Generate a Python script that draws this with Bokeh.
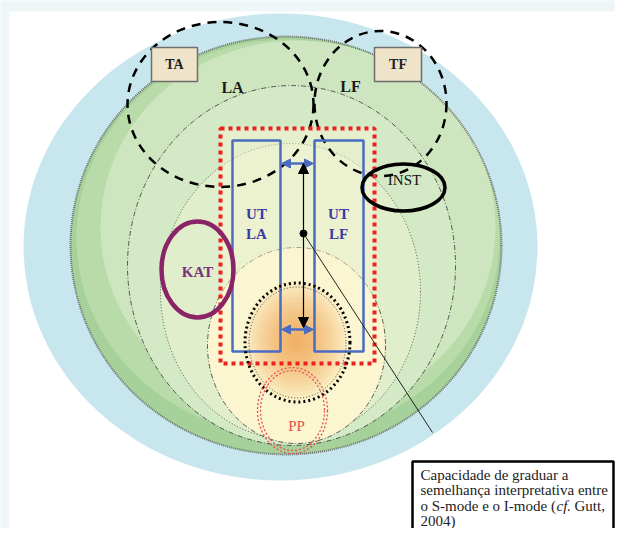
import numpy as np
from bokeh.plotting import figure
from bokeh.models import Range1d, Arrow, NormalHead
from bokeh.core.properties import value
from bokeh.embed import file_html
from bokeh.resources import INLINE

# ---- diagram geometry (picture pixel units) ----
# nested fields: outer sky, outer green, rings A, B, C
field_cx = [280, 285.5, 291, 290, 296]
field_cy = [246.5, 245, 265, 291, 345]
field_w = [514, 431, 328, 260, 178]
field_h = [467, 418, 360, 296, 196]

# dashed circles of the two traditions (TA/LA and TF/LF)
circle_cx = [220, 380]
circle_cy = [104, 103]
circle_w = [186, 132]
circle_h = [165, 145]

# tradition boxes
box_names = ["TA", "TF"]
box_left = [151, 374]
box_right = [197, 421]
box_top = [47, 47]
box_bottom = [81, 81]

# language labels
lang_names = ["LA", "LF"]
lang_x = [232, 350]
lang_y = [87, 86]

# unit-of-translation columns
ut_left = [232, 314]
ut_right = [280, 363]
ut_top = [140, 140]
ut_bottom = [351, 351]
ut_line1 = ["UT", "UT"]
ut_line2 = ["LA", "LF"]
ut_x = [256, 338]
ut_y1 = [213, 213]
ut_y2 = [233, 233]

# red frame
frame_left, frame_right, frame_top, frame_bottom = 220, 374, 128, 363

# small ellipses: KAT, INST, PP, core
kat = dict(x=197, y=269, w=72, h=96)
inst = dict(x=403, y=187, w=83, h=47)
pp = dict(x=292, y=410, w=70, h=86)
core = dict(x=297, y=342, w=105, h=119)

# vertical scale arrow and pointer
scale_x = 303
scale_top, scale_bottom, scale_mid = 163, 327, 233
pointer_end = (432, 432)

# note box
note_lines = ["Capacidade de graduar a", "semelhança interpretativa entre",
              "o S-mode e o I-mode (", "2004)"]
note_y = [474, 489.5, 505, 520.5]

SERIF = value("'Liberation Serif'")

p = figure(width=615, height=528, x_range=Range1d(0, 615), y_range=Range1d(528, 0),
           output_backend="svg", toolbar_location=None, min_border=0,
           x_axis_location=None, y_axis_location=None)
p.grid.visible = False
p.outline_line_color = None
p.background_fill_color = "#eef6f7"
p.border_fill_color = "#eef6f7"

# white page area
p.quad(left=[9], right=[700], top=[11], bottom=[600], fill_color="white", line_color=None)

# sky
p.ellipse(x=field_cx[0], y=field_cy[0], width=field_w[0], height=field_h[0],
          fill_color="#c8e6ee", line_color=None)
# outer green with darker lower band
p.ellipse(x=field_cx[1], y=field_cy[1], width=field_w[1], height=field_h[1],
          fill_color="#a6d19a", line_color=None)
p.ellipse(x=field_cx[1] + 2, y=field_cy[1] - 8, width=field_w[1] - 8, height=field_h[1] - 22,
          fill_color="#b8dba9", line_color=None)
p.ellipse(x=field_cx[1] + 12, y=field_cy[1] - 18, width=field_w[1] - 36, height=field_h[1] - 44,
          fill_color="#d2e9c5", line_color=None, fill_alpha=0.8)
p.ellipse(x=field_cx[1], y=field_cy[1], width=field_w[1], height=field_h[1],
          fill_color=None, line_color="#555555", line_width=2, line_dash="1 1", line_alpha=0.8)

# inner rings
p.ellipse(x=field_cx[2], y=field_cy[2], width=field_w[2], height=field_h[2],
          fill_color="#d4e9c5", line_color="#333333", line_width=0.8, line_dash="5 2 1 2")
p.ellipse(x=field_cx[3], y=field_cy[3], width=field_w[3], height=field_h[3],
          fill_color="#e0eecc", line_color="#333333", line_width=0.8, line_dash="1 2")
p.ellipse(x=field_cx[4], y=field_cy[4], width=field_w[4], height=field_h[4],
          fill_color="#fbf6cf", line_color="#333333", line_width=0.8, line_dash="5 2 1 2")

# light halo behind red frame
p.quad(left=[frame_left], right=[frame_right], top=[frame_top], bottom=[frame_bottom],
       fill_color="#fbf7d4", fill_alpha=0.45, line_color=None)

# orange glow
for r in np.linspace(52, 4, 14):
    p.ellipse(x=296, y=340, width=2 * r, height=2.3 * r,
              fill_color="#f49a3a", fill_alpha=0.075, line_color=None)

# dashed tradition circles
p.ellipse(x=circle_cx, y=circle_cy, width=circle_w, height=circle_h,
          fill_color=None, line_color="black", line_width=2.5, line_dash="9 7")

# boxes
p.quad(left=box_left, right=box_right, top=box_top, bottom=box_bottom,
       fill_color="#efe4c9", line_color="#6e6e6e", line_width=1.5)
p.text(x=[(a + b) / 2 for a, b in zip(box_left, box_right)],
       y=[(a + b) / 2 for a, b in zip(box_top, box_bottom)], text=box_names,
       text_font=SERIF, text_font_style="bold", text_font_size="14px",
       text_align="center", text_baseline="middle", text_color="#222222")
p.text(x=lang_x, y=lang_y, text=lang_names, text_font=SERIF, text_font_style="bold",
       text_font_size="16px", text_align="center", text_baseline="middle", text_color="#1a1a1a")

# red dotted frame
p.quad(left=[frame_left], right=[frame_right], top=[frame_top], bottom=[frame_bottom],
       fill_color=None, line_color="#ee1f1f", line_width=4, line_dash="4 4")

# blue UT columns
p.quad(left=ut_left, right=ut_right, top=ut_top, bottom=ut_bottom,
       fill_color=None, line_color="#4a6cc2", line_width=2.5)
p.text(x=ut_x, y=ut_y1, text=ut_line1, text_font=SERIF, text_font_style="bold",
       text_font_size="15px", text_align="center", text_baseline="middle", text_color="#3a3aa6")
p.text(x=ut_x, y=ut_y2, text=ut_line2, text_font=SERIF, text_font_style="bold",
       text_font_size="15px", text_align="center", text_baseline="middle", text_color="#3a3aa6")

# core dotted circle
p.ellipse(x=core["x"], y=core["y"], width=core["w"], height=core["h"],
          fill_color=None, line_color="black", line_width=3, line_dash="2 3")
p.ellipse(x=core["x"], y=core["y"], width=core["w"] - 8, height=core["h"] - 8,
          fill_color=None, line_color="black", line_width=1, line_dash="1 2", line_alpha=0.7)

# PP double dotted circle
p.ellipse(x=pp["x"], y=pp["y"], width=pp["w"], height=pp["h"],
          fill_color=None, line_color="#e85050", line_width=1.3, line_dash="2 2")
p.ellipse(x=pp["x"], y=pp["y"], width=pp["w"] - 6, height=pp["h"] - 6,
          fill_color=None, line_color="#e85050", line_width=1.3, line_dash="2 2")
p.text(x=[pp["x"] + 4], y=[pp["y"] + 15], text=["PP"], text_font=SERIF, text_font_size="15px",
       text_align="center", text_baseline="middle", text_color="#e05050")

# KAT
p.ellipse(x=kat["x"], y=kat["y"], width=kat["w"], height=kat["h"],
          fill_color=None, line_color="#8b2467", line_width=4.5)
p.text(x=[kat["x"]], y=[kat["y"] + 2], text=["KAT"], text_font=SERIF, text_font_style="bold",
       text_font_size="15px", text_align="center", text_baseline="middle", text_color="#7e2f7a")

# INST
p.ellipse(x=inst["x"], y=inst["y"], width=inst["w"], height=inst["h"],
          fill_color=None, line_color="black", line_width=3.5)
p.text(x=[inst["x"] + 1], y=[inst["y"] - 8], text=["INST"], text_font=SERIF,
       text_font_size="15px", text_align="center", text_baseline="middle", text_color="#111111")

# blue double arrows
for yy in [scale_top, scale_bottom + 2]:
    p.add_layout(Arrow(start=NormalHead(size=9, fill_color="#4a6cc2", line_color="#4a6cc2"),
                       end=NormalHead(size=9, fill_color="#4a6cc2", line_color="#4a6cc2"),
                       x_start=ut_right[0] + 1, y_start=yy, x_end=ut_left[1] - 1, y_end=yy,
                       line_color="#4a6cc2", line_width=2.5))

# black scale arrow
p.add_layout(Arrow(start=NormalHead(size=10, fill_color="black"),
                   end=NormalHead(size=10, fill_color="black"),
                   x_start=scale_x, y_start=scale_top, x_end=scale_x, y_end=scale_bottom,
                   line_color="black", line_width=1.2))
p.scatter(x=[scale_x], y=[scale_mid], size=7, color="black")
p.line(x=[scale_x, pointer_end[0]], y=[scale_mid, pointer_end[1]], line_color="#222222", line_width=1)

# note box
p.quad(left=[412], right=[613], top=[461], bottom=[600], fill_color="white",
       line_color="black", line_width=2.5)
p.text(x=[420] * 4, y=note_y, text=note_lines, text_font=SERIF,
       text_font_size="15px", text_align="left", text_baseline="middle", text_color="#222222")
p.text(x=[556], y=[note_y[2]], text=["cf."], text_font=SERIF, text_font_style="italic",
       text_font_size="15px", text_align="left", text_baseline="middle", text_color="#222222")
p.text(x=[574], y=[note_y[2]], text=["Gutt,"], text_font=SERIF,
       text_font_size="15px", text_align="left", text_baseline="middle", text_color="#222222")

open("out.html", "w").write(file_html(p, INLINE))
